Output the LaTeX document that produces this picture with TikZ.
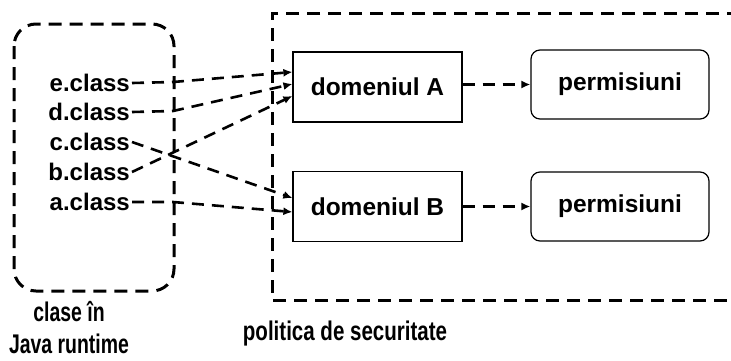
\documentclass[tikz,border=0pt]{standalone}
\usepackage{fontspec}
\usepackage{graphicx}
\setmainfont{Liberation Sans}
\usetikzlibrary{arrows.meta}
\begin{document}
\begin{tikzpicture}[x=1pt,y=-1pt,
  lbl/.style={font=\bfseries\fontsize{24}{26}\selectfont, inner ysep=0pt, inner xsep=2pt, anchor=east},
  dom/.style={draw, line width=1.2pt, minimum width=169pt, minimum height=70pt, inner sep=0pt, font=\bfseries\fontsize{24.5}{26}\selectfont},
  perm/.style={dom, rounded corners=9pt, minimum width=178pt, minimum height=69pt},
  conn/.style={line width=2.6pt, dash pattern=on 12pt off 8pt, -{Latex[length=9pt,width=8pt]}},
  border/.style={line width=3pt, dash pattern=on 13pt off 8pt},
  captxt/.style={font=\bfseries\fontsize{27}{32}\selectfont, align=center, inner sep=0pt}]
\clip (0,0) rectangle (731,360);
\fill[white] (0,0) rectangle (731,360);
% containers
\draw[border, rounded corners=22pt] (14,24) rectangle (174,291);
\draw[border] (740,13) -- (272,13) -- (272,300) -- (740,300);
% domains and permissions
\node[dom] (A) at (377.5,87) {domeniul A};
\node[dom] (B) at (377.5,206.5) {domeniul B};
\node[perm] (PA) at (620,84.5) {permisiuni};
\node[perm] (PB) at (620,206.5) {permisiuni};
\draw[conn] (A.east |- PA.west) -- (PA.west);
\draw[conn] (B.east) -- (PB.west);
% classes
\node[lbl] (e) at (132,83) {e.class};
\node[lbl] (d) at (132,112) {d.class};
\node[lbl] (c) at (132,142) {c.class};
\node[lbl] (b) at (132,172) {b.class};
\node[lbl] (a) at (132,202) {a.class};
\draw[conn] (e.east) -- (173,82) -- (A.west |- 0,72);
\draw[conn] (d.east) -- (173,111) -- (A.west |- 0,84);
\draw[conn] (c.east) -- (B.west |- 0,198);
\draw[conn] (b.east) -- (A.west |- 0,96);
\draw[conn] (a.east) -- (173,202) -- (B.west |- 0,212);
% captions
\node[captxt] (jr) at (69,328) {\scalebox{0.72}[1]{clase în}\\\scalebox{0.72}[1]{Java runtime}};
\node[captxt] (ps) at (345,334) {\scalebox{0.76}[1]{politica de securitate}};
\end{tikzpicture}
\end{document}
